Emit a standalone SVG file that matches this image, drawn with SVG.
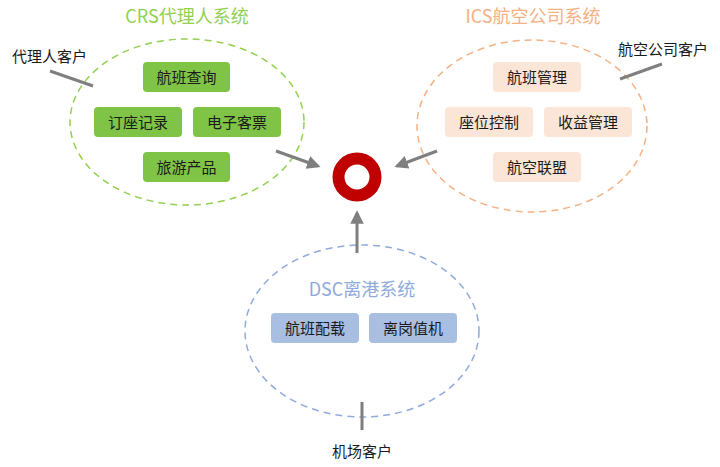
<svg xmlns="http://www.w3.org/2000/svg" width="720" height="467" viewBox="0 0 720 467">
<defs>
<marker id="ah" viewBox="0 0 10 10" refX="8" refY="5" markerWidth="4.5" markerHeight="4.5" orient="auto" markerUnits="strokeWidth">
<path d="M0,0 L10,5 L0,10 z" fill="#7f7f7f"/>
</marker>
<style>
text{font-family:"Microsoft YaHei","Noto Sans CJK SC",sans-serif;}
.t{font-size:18px;text-anchor:middle;}
.lbl{font-size:15px;fill:#1a1a1a;}
.bt{font-size:15px;fill:#1a1a1a;text-anchor:middle;}
.g{fill:#80c447;}
.o{fill:#fbe5d6;}
.b{fill:#a9bfe2;}
.ell{fill:none;stroke-width:1.5;stroke-dasharray:7 5;}
.ln{stroke:#7f7f7f;stroke-width:3;fill:none;}
</style>
</defs>
<rect width="720" height="467" fill="#ffffff"/>

<g id="crs">
<text class="t" x="187" y="23" fill="#92d050">CRS代理人系统</text>
<ellipse class="ell" cx="187" cy="122" rx="117" ry="83" stroke="#92d050"/>
<rect class="g" x="143" y="62" width="87" height="30" rx="4"/><text class="bt" x="186.5" y="82.5">航班查询</text>
<rect class="g" x="94" y="107" width="88" height="30" rx="4"/><text class="bt" x="138" y="127.5">订座记录</text>
<rect class="g" x="193" y="107" width="88" height="30" rx="4"/><text class="bt" x="237" y="127.5">电子客票</text>
<rect class="g" x="143" y="152" width="87" height="30" rx="4"/><text class="bt" x="186.5" y="172.5">旅游产品</text>
</g>

<g id="ics">
<text class="t" x="533" y="23" fill="#f4b183">ICS航空公司系统</text>
<ellipse class="ell" cx="532" cy="126" rx="115" ry="86" stroke="#f4b183"/>
<rect class="o" x="493" y="62" width="88" height="30" rx="4"/><text class="bt" x="537" y="82.5">航班管理</text>
<rect class="o" x="445" y="107" width="88" height="30" rx="4"/><text class="bt" x="489" y="127.5">座位控制</text>
<rect class="o" x="544" y="107" width="88" height="30" rx="4"/><text class="bt" x="588" y="127.5">收益管理</text>
<rect class="o" x="493" y="152" width="88" height="30" rx="4"/><text class="bt" x="537" y="172.5">航空联盟</text>
</g>

<g id="dsc">
<ellipse class="ell" cx="362" cy="331" rx="117" ry="86" stroke="#8faadc"/>
<text class="t" x="362" y="296" fill="#8faadc">DSC离港系统</text>
<rect class="b" x="271" y="313" width="88" height="30" rx="4"/><text class="bt" x="315" y="333.5">航班配载</text>
<rect class="b" x="369" y="313" width="88" height="30" rx="4"/><text class="bt" x="413" y="333.5">离岗值机</text>
</g>

<g id="hub">
<circle cx="357" cy="177" r="18.5" fill="none" stroke="#c00000" stroke-width="12"/>
</g>

<g id="agent-client">
<text class="lbl" x="12" y="62">代理人客户</text>
</g>
<g id="airline-client">
<text class="lbl" x="618" y="55">航空公司客户</text>
</g>
<g id="airport-client">
<text class="lbl" x="362" y="457" text-anchor="middle">机场客户</text>
</g>

<g id="connectors">
<line class="ln" x1="276" y1="151" x2="318" y2="166" marker-end="url(#ah)"/>
<line class="ln" x1="437" y1="151" x2="397" y2="166" marker-end="url(#ah)"/>
<line class="ln" x1="357" y1="253" x2="357" y2="213" marker-end="url(#ah)"/>
<line class="ln" x1="50" y1="71" x2="93" y2="86"/>
<line class="ln" x1="620" y1="79" x2="662" y2="64"/>
<line class="ln" x1="362" y1="402" x2="362" y2="430"/>
</g>
</svg>
